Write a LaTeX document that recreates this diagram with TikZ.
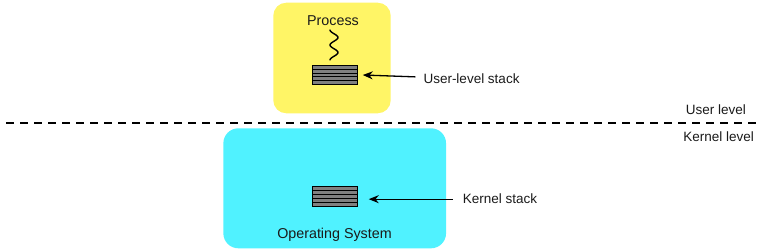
\documentclass[tikz,border=0pt]{standalone}
\usepackage{fontspec}
\setmainfont{Liberation Sans}
\usetikzlibrary{positioning,arrows.meta,calc}
\definecolor{amarillo}{HTML}{FFF566}
\definecolor{cian}{HTML}{50F2FF}
\definecolor{gris}{HTML}{808080}
\definecolor{tinta}{HTML}{1A1A1A}

\begin{document}
\begin{tikzpicture}[x=1pt, y=-1pt, font=\fontsize{13.5}{16}\selectfont, text=tinta,
  area/.style={rounded corners=13pt, inner sep=0pt},
  stack/.style={draw=black, line width=0.9pt, fill=gris, minimum width=44.6pt,
    minimum height=19.5pt, inner sep=0pt,
    path picture={\foreach \k in {1,...,4}
      \draw[black, line width=0.9pt]
        ($(path picture bounding box.north west)!\k/5!(path picture bounding box.south west)$) --
        ($(path picture bounding box.north east)!\k/5!(path picture bounding box.south east)$);}},
  title/.style={anchor=base, inner sep=0pt, font=\fontsize{14.3}{17}\selectfont},
  tag/.style={anchor=base west, inner sep=0pt},
  ptr/.style={-{Stealth[length=10pt, width=8pt]}, line width=1.3pt}]
  \useasboundingbox (0,0) rectangle (766,251);
  % regions
  \node[area, fill=amarillo, minimum width=117.4pt, minimum height=110.6pt] (proc) at (332,58) {};
  \node[area, fill=cian, rounded corners=15pt, minimum width=222.7pt, minimum height=120pt] (os) at (334.7,188.3) {};
  \node[title] (ptitle) at (333,25.3) {Process};
  \node[title] (ostitle) at (334.5,238.7) {Operating System};
  % stacks
  \node[stack] (us) at (335,75) {};
  \node[stack] (ks) at (335,196.3) {};
  \draw[line width=1.4pt, line cap=round, domain=0:30, samples=60, smooth, variable=\t]
    plot ({334-4*cos(\t*24)}, {30+\t});
  % labels and pointers
  \node[tag] (ul) at (423.3,83.3) {User-level stack};
  \node[tag] (kl) at (462.7,204) {Kernel stack};
  \draw[ptr] ([xshift=-8pt, yshift=1.6pt]ul.west) -- ([xshift=5pt]us.east);
  \draw[ptr] ([xshift=-10pt]kl.west) -- ([xshift=11pt]kl.west -| ks.east);
  % user / kernel boundary
  \draw[line width=2pt, dash pattern=on 8pt off 6pt] (6,122.8) -- (756,122.8);
  \node[anchor=base east, inner sep=0pt] (ulevel) at (746,114.3) {User level};
  \node[anchor=base east, inner sep=0pt] (klevel) at (754,141.7) {Kernel level};
\end{tikzpicture}
\end{document}
